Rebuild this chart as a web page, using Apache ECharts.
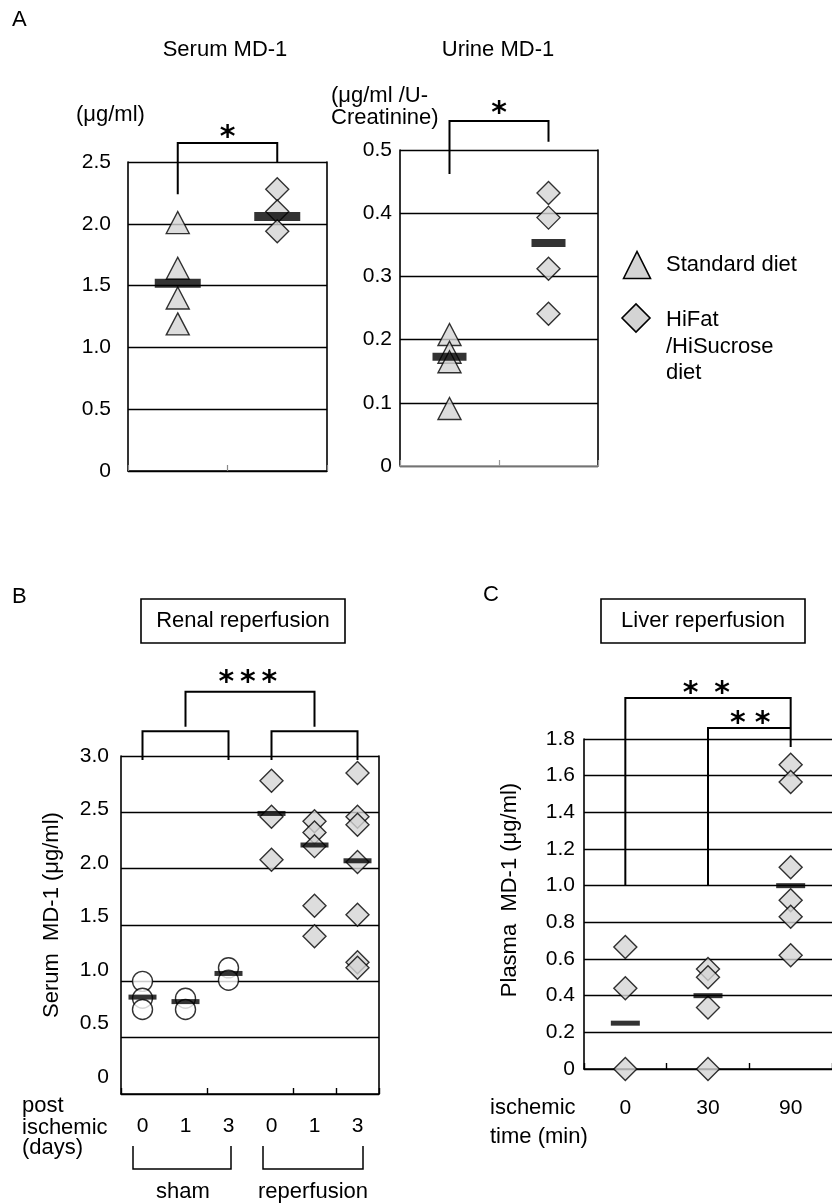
<!DOCTYPE html>
<html><head><meta charset="utf-8">
<script src="https://cdn.jsdelivr.net/npm/echarts@6/dist/echarts.min.js"></script>
<style>html,body{margin:0;padding:0;background:#fff}#c{width:832px;height:1203px}</style>
</head><body><div id="c"></div>
<script>
// ---------- Panel A ----------
const dietGroups = ['Standard diet', 'HiFat/HiSucrose diet'];
const serumStandard = [2.01, 1.64, 1.40, 1.19];
const serumHiFat = [2.28, 2.10, 1.94];
const serumMeans = [1.52, 2.06];
const serumTicks = [0, 0.5, 1.0, 1.5, 2.0, 2.5];
const urineStandard = [0.208, 0.180, 0.165, 0.091];
const urineHiFat = [0.432, 0.393, 0.312, 0.241];
const urineMeans = [0.173, 0.353];
const urineTicks = [0, 0.1, 0.2, 0.3, 0.4, 0.5];
// ---------- Panel B ----------
const renalDays = ['0', '1', '3', '0', '1', '3'];
const shamValues = [[1.00, 0.85, 0.75], [0.85, 0.75], [1.12, 1.01]];
const reperfusionValues = [[2.78, 2.46, 2.08], [2.42, 2.32, 2.20, 1.67, 1.40], [2.85, 2.46, 2.39, 2.06, 1.59, 1.17, 1.12]];
const renalMeans = [0.86, 0.82, 1.07, 2.49, 2.21, 2.07];
const renalTicks = [0, 0.5, 1.0, 1.5, 2.0, 2.5, 3.0];
// ---------- Panel C ----------
const ischemicTimes = ['0', '30', '90'];
const liverValues = [[0.665, 0.44, 0], [0.545, 0.50, 0.335, 0], [1.66, 1.565, 1.10, 0.92, 0.83, 0.62]];
const liverMeans = [0.25, 0.40, 1.00];
const liverTicks = [0, 0.2, 0.4, 0.6, 0.8, 1.0, 1.2, 1.4, 1.6, 1.8];

const FONT = '"Liberation Sans", Arial, sans-serif';
const TXT = {color: '#000', fontFamily: FONT, fontSize: 21};
const fmt = v => v === 0 ? '0' : v.toFixed(1);
const markerStyle = {color: '#d4d4d4', borderColor: '#000', borderWidth: 1.4};
const circleStyle = {color: '#fff', borderColor: '#000', borderWidth: 1.4};
const meanStyle = {color: '#000'};

function rangeOf(t) { return {min: t[0], max: t[t.length - 1], interval: t[1] - t[0]}; }
function mainY(grid, ticks, margin, showLabel) {
  const r = rangeOf(ticks);
  return {type: 'value', gridIndex: grid, position: 'left', min: r.min, max: r.max, interval: r.interval,
    axisLine: {show: true, lineStyle: {color: '#000', width: 1.6}},
    axisTick: {show: false},
    splitLine: {show: true, lineStyle: {color: '#000', width: 1.4}},
    axisLabel: Object.assign({show: showLabel !== false, margin: margin, formatter: fmt}, TXT)};
}
function rightY(grid, ticks) {
  const r = rangeOf(ticks);
  return {type: 'value', gridIndex: grid, position: 'right', min: r.min, max: r.max,
    axisLine: {show: true, lineStyle: {color: '#000', width: 1.6}},
    axisTick: {show: false}, splitLine: {show: false}, axisLabel: {show: false}};
}
function catX(grid, cats, o) {
  return Object.assign({type: 'category', gridIndex: grid, data: cats, boundaryGap: true,
    axisLine: {show: true, lineStyle: {color: '#000', width: 1.6}},
    axisTick: {show: true, inside: true, length: 6, interval: 0, lineStyle: {color: '#000', width: 1.4}},
    axisLabel: {show: false}, splitLine: {show: false}}, o || {});
}
function pts(values, idx) { return values.map(v => [idx, v]); }
function groupPts(groups, offset) { return groups.flatMap((arr, i) => arr.map(v => [i + offset, v])); }
function meanPts(means) { return means.map((v, i) => [i, v]); }
function sc(xi, yi, symbol, size, style, data, z) {
  return {type: 'scatter', xAxisIndex: xi, yAxisIndex: yi, symbol: symbol, symbolSize: size,
    itemStyle: style, data: data, z: z || 2, silent: true, emphasis: {disabled: true}};
}

const chart = echarts.init(document.getElementById('c'), null, {renderer: 'canvas', width: 832, height: 1203});

const option = {
  animation: false,
  backgroundColor: '#fff',
  textStyle: {fontFamily: FONT},
  grid: [
    {left: 128, top: 162, width: 199, height: 309},
    {left: 400, top: 150, width: 198, height: 316},
    {left: 121, top: 756, width: 258, height: 338},
    {left: 584, top: 739, width: 256, height: 330}
  ],
  xAxis: [
    catX(0, dietGroups, {axisTick: {show: true, inside: true, length: 6, interval: 0, lineStyle: {color: '#888', width: 1.2}}}),
    catX(1, dietGroups, {axisLine: {show: true, lineStyle: {color: '#999', width: 1.6}},
      axisTick: {show: true, inside: true, length: 6, interval: 0, lineStyle: {color: '#999', width: 1.2}}}),
    catX(2, renalDays, {axisTick: {show: true, inside: true, length: 6, interval: 1, lineStyle: {color: '#000', width: 1.4}},
      axisLabel: Object.assign({show: true, interval: 0, margin: 22}, TXT)}),
    catX(3, ischemicTimes, {axisLabel: Object.assign({show: true, interval: 0, margin: 29}, TXT)})
  ],
  yAxis: [
    mainY(0, serumTicks, 17),
    rightY(0, serumTicks),
    mainY(1, urineTicks, 8),
    rightY(1, urineTicks),
    mainY(2, renalTicks, 12, false),
    {type: 'value', gridIndex: 2, position: 'left', offset: 0, min: -0.1589, max: 3,
      axisLine: {show: false}, axisTick: {show: false}, splitLine: {show: false},
      axisLabel: Object.assign({show: true, margin: 12, formatter: fmt, customValues: renalTicks}, TXT)},
    rightY(2, renalTicks),
    mainY(3, liverTicks, 9)
  ],
  series: [
    sc(0, 0, 'triangle', [23, 22], markerStyle, pts(serumStandard, 0)),
    sc(0, 0, 'diamond', [23, 23], markerStyle, pts(serumHiFat, 1)),
    sc(0, 0, 'rect', [46, 9], meanStyle, meanPts(serumMeans), 5),
    sc(1, 2, 'triangle', [23, 22], markerStyle, pts(urineStandard, 0)),
    sc(1, 2, 'diamond', [23, 23], markerStyle, pts(urineHiFat, 1)),
    sc(1, 2, 'rect', [34, 8], meanStyle, meanPts(urineMeans), 5),
    sc(2, 4, 'circle', 20, circleStyle, groupPts(shamValues, 0)),
    sc(2, 4, 'diamond', [23, 23], markerStyle, groupPts(reperfusionValues, 3)),
    sc(2, 4, 'rect', [28, 5], meanStyle, meanPts(renalMeans), 5),
    sc(3, 7, 'diamond', [23, 23], markerStyle, groupPts(liverValues, 0)),
    sc(3, 7, 'rect', [29, 5], meanStyle, meanPts(liverMeans), 5)
  ]
};
chart.setOption(option);

// ---------- annotations (positioned through the axes) ----------
function P(xi, yi, x, y) {
  const f = Math.floor(x), fr = x - f;
  const a = chart.convertToPixel({xAxisIndex: xi, yAxisIndex: yi}, [f, y]);
  if (fr === 0) return a;
  const b = chart.convertToPixel({xAxisIndex: xi, yAxisIndex: yi}, [f + 1, y]);
  return [a[0] + (b[0] - a[0]) * fr, a[1]];
}
function bracket(xi, yi, list) {
  return {type: 'polyline', silent: true, z: 10,
    shape: {points: list.map(p => P(xi, yi, p[0], p[1]))},
    style: {stroke: '#000', lineWidth: 2, fill: null}};
}
const STAR_FS = 30;
function star(xi, yi, x, y) {
  const p = P(xi, yi, x, y);
  return {type: 'text', silent: true, z: 10, x: p[0], y: p[1] + STAR_FS * 0.2,
    style: {text: '*', font: 'bold ' + STAR_FS + 'px "DejaVu Sans"', fill: '#000', align: 'center', verticalAlign: 'middle'}};
}
function text(t, x, y, align, size, rot) {
  return {type: 'text', silent: true, x: x, y: y, rotation: rot || 0,
    style: {text: t, font: (size || 22) + 'px ' + FONT, fill: '#000', align: align || 'left', verticalAlign: 'middle'}};
}
function line(points, w) {
  return {type: 'polyline', silent: true, shape: {points: points}, style: {stroke: '#000', lineWidth: w || 1.5, fill: null}};
}

const g = [
  text('A', 12, 20),
  text('Serum MD-1', 225, 50, 'center'),
  text('(\u03bcg/ml)', 76, 115),
  text('Urine MD-1', 498, 50, 'center'),
  text('(\u03bcg/ml /U-', 331, 96),
  text('Creatinine)', 331, 118),
  {type: 'polygon', silent: true, shape: {points: [[623.5, 278.5], [637, 251.5], [650.5, 278.5]]},
    style: {fill: '#d4d4d4', stroke: '#000', lineWidth: 1.6}},
  text('Standard diet', 666, 265),
  {type: 'polygon', silent: true, shape: {points: [[622, 318], [636, 304], [650, 318], [636, 332]]},
    style: {fill: '#d4d4d4', stroke: '#000', lineWidth: 1.6}},
  text('HiFat', 666, 320),
  text('/HiSucrose', 666, 347),
  text('diet', 666, 373),
  text('B', 12, 597),
  {type: 'rect', silent: true, shape: {x: 141, y: 599, width: 204, height: 44}, style: {fill: null, stroke: '#000', lineWidth: 1.6}},
  text('Renal reperfusion', 243, 621, 'center'),
  text('C', 483, 595),
  {type: 'rect', silent: true, shape: {x: 601, y: 599, width: 204, height: 44}, style: {fill: null, stroke: '#000', lineWidth: 1.6}},
  text('Liver reperfusion', 703, 621, 'center'),
  text('Serum  MD-1 (\u03bcg/ml)', 52, 915, 'center', 22, Math.PI / 2),
  text('Plasma  MD-1 (\u03bcg/ml)', 510, 890, 'center', 22, Math.PI / 2),
  text('post', 22, 1106),
  text('ischemic', 22, 1128),
  text('(days)', 22, 1148),
  line([[133, 1146], [133, 1169], [231, 1169], [231, 1146]]),
  line([[263, 1146], [263, 1169], [363, 1169], [363, 1146]]),
  text('sham', 183, 1192, 'center'),
  text('reperfusion', 313, 1192, 'center'),
  text('ischemic', 490, 1108),
  text('time (min)', 490, 1137),
  // significance brackets
  bracket(0, 0, [[0, 2.24], [0, 2.653], [1, 2.653], [1, 2.5]]),
  star(0, 0, 0.5, 2.742),
  bracket(1, 2, [[0, 0.462], [0, 0.546], [1, 0.546], [1, 0.513]]),
  star(1, 2, 0.5, 0.566),
  bracket(2, 4, [[0, 2.965], [0, 3.22], [2, 3.22], [2, 2.965]]),
  bracket(2, 4, [[3, 2.965], [3, 3.22], [5, 3.22], [5, 2.965]]),
  bracket(2, 4, [[1, 3.26], [1, 3.57], [4, 3.57], [4, 3.26]]),
  star(2, 4, 1.95, 3.70), star(2, 4, 2.45, 3.70), star(2, 4, 2.95, 3.70),
  bracket(3, 7, [[0, 1.0], [0, 2.024], [2, 2.024], [2, 1.756]]),
  bracket(3, 7, [[1, 1.0], [1, 1.86], [2, 1.86]]),
  star(3, 7, 0.79, 2.078), star(3, 7, 1.17, 2.078),
  star(3, 7, 1.36, 1.915), star(3, 7, 1.66, 1.915)
];
chart.setOption({graphic: {elements: g}});
</script>
</body></html>
